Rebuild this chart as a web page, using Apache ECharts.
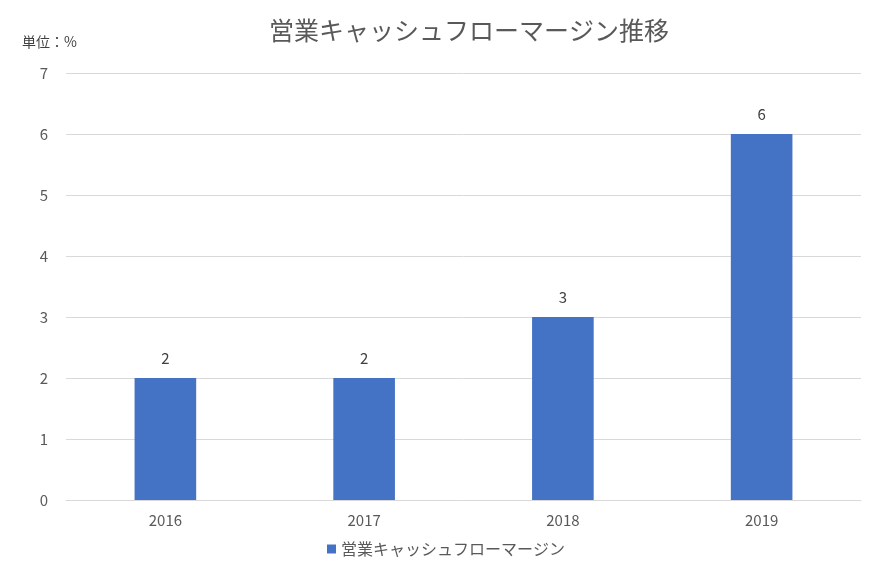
<!DOCTYPE html>
<html><head><meta charset="utf-8">
<script src="https://cdn.jsdelivr.net/npm/echarts@6/dist/echarts.min.js"></script>
<style>html,body{margin:0;padding:0;background:#fff}#c{width:892px;height:577px}</style>
</head><body><div id="c"></div>
<script>
const categories = ['2016', '2017', '2018', '2019'];
const values = [2, 2, 3, 6];
const seriesName = '営業キャッシュフローマージン';
const titleText = '営業キャッシュフローマージン推移';
const unitText = '単位：%';

const font = '"Noto Sans CJK JP", "Noto Sans", sans-serif';
const chart = echarts.init(document.getElementById('c'));
chart.setOption({
  animation: false,
  textStyle: { fontFamily: font },
  title: {
    text: titleText,
    left: 464, top: 13, textAlign: 'center',
    textStyle: { fontSize: 25, fontWeight: 'normal', color: '#595959', fontFamily: font }
  },
  graphic: [{
    type: 'text', left: 22, top: 35,
    style: { text: unitText, fontSize: 14, fill: '#404040', fontFamily: font }
  }],
  legend: {
    data: [seriesName], bottom: 15, left: 'center',
    icon: 'rect', itemWidth: 9, itemHeight: 9, itemGap: 5,
    textStyle: { fontSize: 16, color: '#595959', fontFamily: font }
  },
  grid: { left: 66, right: 31, top: 73, bottom: 77 },
  xAxis: {
    type: 'category', data: categories,
    axisLine: { lineStyle: { color: '#d9d9d9' } },
    axisTick: { show: false },
    axisLabel: { color: '#595959', fontSize: 15, margin: 13, fontFamily: font }
  },
  yAxis: {
    type: 'value', min: 0, max: 7, interval: 1,
    axisLine: { show: false }, axisTick: { show: false },
    splitLine: { lineStyle: { color: '#d9d9d9' } },
    axisLabel: { color: '#595959', fontSize: 15, margin: 18, fontFamily: font }
  },
  series: [{
    name: seriesName, type: 'bar', data: values, barWidth: '31%',
    itemStyle: { color: '#4472C4' },
    label: { show: true, position: 'top', distance: 12, color: '#404040', fontSize: 15, fontFamily: font }
  }]
});
</script></body></html>
